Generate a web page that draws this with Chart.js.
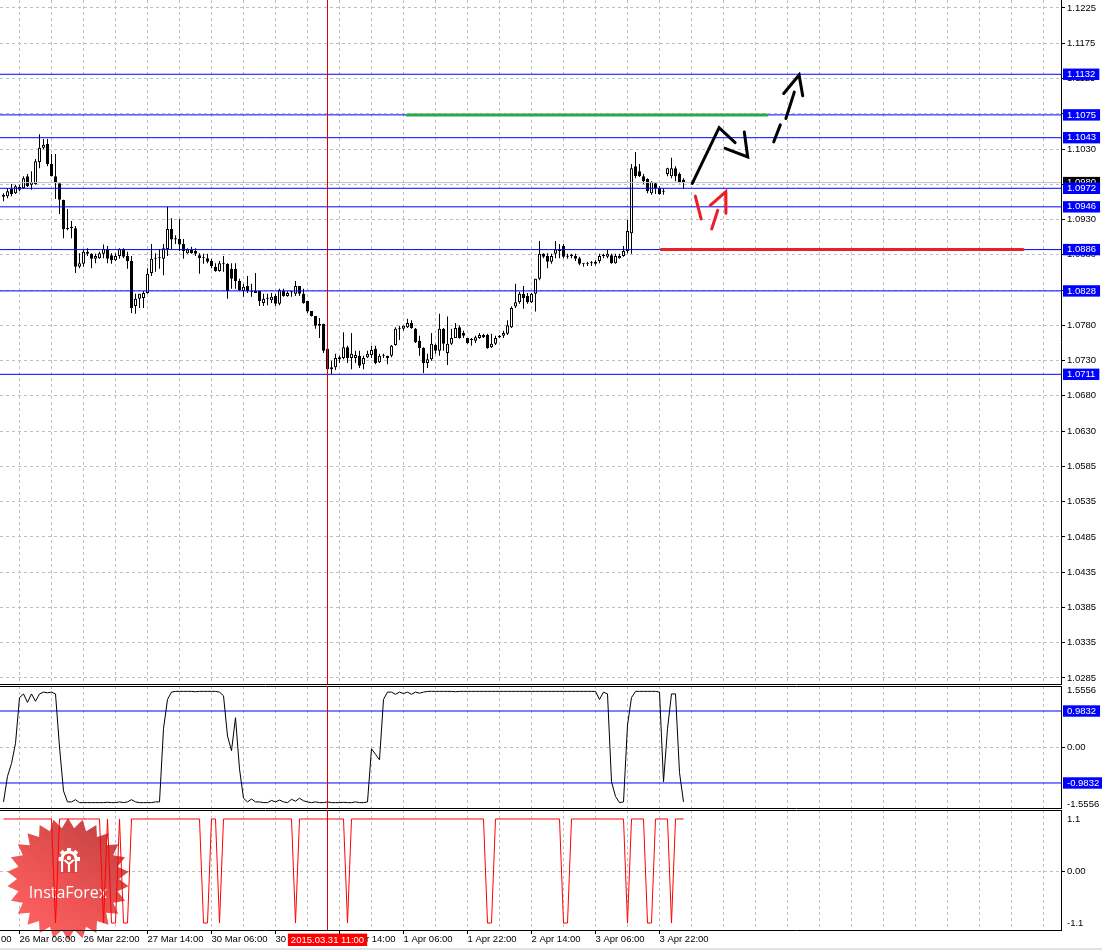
<!DOCTYPE html>
<html>
<head>
<meta charset="utf-8">
<title>EURUSD H1</title>
<script src="https://cdn.jsdelivr.net/npm/chart.js@4.4.1/dist/chart.umd.min.js"></script>
<style>
html,body{margin:0;padding:0;background:#fff;}
#wrap{position:relative;width:1102px;height:950px;overflow:hidden;background:#fff;}
canvas{position:absolute;left:0;display:block;}
#c1{top:0;}
#c2{top:685px;}
#c3{top:809px;}
#foot{position:absolute;left:0;top:948px;width:1102px;height:2px;background:#e2e2e2;}
</style>
</head>
<body>
<div id="wrap">
<canvas id="c1" width="1102" height="685"></canvas>
<canvas id="c2" width="1102" height="124"></canvas>
<canvas id="c3" width="1102" height="141"></canvas>
<div id="foot"></div>
</div>
<script>
// ---------------- DATA ----------------
const OPEN = [
1.0963,1.0961,1.0971,1.0965,1.0974,1.0972,1.0989,1.0977,1.0978,1.1009,
1.1029,1.1034,1.1006,1.0989,1.0979,1.0956,1.0915,1.0918,1.0916,1.0862,
1.0866,1.0883,1.0880,1.0873,1.0874,1.0880,1.0887,1.0878,1.0871,1.0877,
1.0887,1.0877,1.0870,1.0807,1.0817,1.0818,1.0825,1.0853,1.0874,1.0874,
1.0873,1.0887,1.0915,1.0902,1.0901,1.0894,1.0881,1.0886,1.0884,1.0878,
1.0874,1.0874,1.0870,1.0862,1.0856,1.0867,1.0866,1.0859,1.0859,1.0842,
1.0828,1.0835,1.0828,1.0828,1.0828,1.0811,1.0817,1.0815,1.0821,1.0810,
1.0828,1.0821,1.0826,1.0824,1.0835,1.0824,1.0814,1.0800,1.0793,1.0779,
1.0782,1.0747,1.0718,1.0721,1.0735,1.0734,1.0749,1.0734,1.0734,1.0737,
1.0725,1.0735,1.0738,1.0747,1.0728,1.0737,1.0737,1.0737,1.0752,1.0775,
1.0775,1.0777,1.0783,1.0775,1.0758,1.0748,1.0727,1.0732,1.0752,1.0744,
1.0775,1.0741,1.0754,1.0762,1.0777,1.0769,1.0762,1.0759,1.0758,1.0762,
1.0766,1.0766,1.0749,1.0754,1.0763,1.0765,1.0768,1.0777,1.0806,1.0812,
1.0824,1.0821,1.0812,1.0824,1.0845,1.0880,1.0877,1.0869,1.0880,1.0885,
1.0891,1.0877,1.0877,1.0877,1.0874,1.0866,1.0866,1.0867,1.0866,1.0870,
1.0877,1.0876,1.0878,1.0867,1.0874,1.0877,1.0884,1.0909,1.1003,1.0996,
1.0989,1.0985,1.0965,1.0979,1.0972,1.0967,1.0992,1.0989,1.1000,1.0992,
1.0984];
const HIGH = [
1.0965,1.0972,1.0978,1.0977,1.0977,1.0989,1.0992,1.0996,1.1013,1.1048,
1.1041,1.1041,1.1020,1.1020,1.0979,1.0956,1.0943,1.0926,1.0919,1.0881,
1.0887,1.0888,1.0881,1.0880,1.0883,1.0893,1.0891,1.0881,1.0881,1.0888,
1.0888,1.0883,1.0877,1.0824,1.0824,1.0828,1.0860,1.0894,1.0881,1.0887,
1.0894,1.0946,1.0930,1.0906,1.0929,1.0901,1.0888,1.0890,1.0888,1.0881,
1.0880,1.0880,1.0873,1.0867,1.0870,1.0877,1.0867,1.0867,1.0867,1.0845,
1.0838,1.0849,1.0838,1.0853,1.0828,1.0824,1.0824,1.0825,1.0824,1.0831,
1.0831,1.0828,1.0828,1.0842,1.0835,1.0831,1.0814,1.0800,1.0793,1.0790,
1.0782,1.0747,1.0730,1.0740,1.0737,1.0770,1.0751,1.0769,1.0744,1.0744,
1.0737,1.0744,1.0751,1.0751,1.0740,1.0740,1.0737,1.0752,1.0777,1.0779,
1.0780,1.0789,1.0787,1.0776,1.0765,1.0749,1.0740,1.0769,1.0754,1.0796,
1.0776,1.0792,1.0775,1.0783,1.0780,1.0772,1.0762,1.0762,1.0765,1.0769,
1.0768,1.0768,1.0768,1.0765,1.0766,1.0772,1.0787,1.0806,1.0838,1.0827,
1.0835,1.0825,1.0825,1.0845,1.0898,1.0881,1.0881,1.0880,1.0898,1.0894,
1.0894,1.0880,1.0880,1.0880,1.0876,1.0867,1.0869,1.0870,1.0871,1.0880,
1.0880,1.0886,1.0880,1.0880,1.0880,1.0891,1.0928,1.1006,1.1023,1.1006,
1.0992,1.0986,1.0982,1.0981,1.0975,1.0972,1.1001,1.1015,1.1003,1.0994,
1.0986];
const LOW = [
1.0954,1.0958,1.0961,1.0964,1.0968,1.0971,1.0974,1.0970,1.0977,1.1000,
1.1027,1.1003,1.0989,1.0957,1.0936,1.0902,1.0913,1.0902,1.0853,1.0860,
1.0862,1.0877,1.0860,1.0867,1.0873,1.0874,1.0867,1.0866,1.0870,1.0873,
1.0874,1.0859,1.0797,1.0796,1.0804,1.0804,1.0824,1.0849,1.0855,1.0859,
1.0850,1.0877,1.0887,1.0894,1.0884,1.0873,1.0880,1.0880,1.0877,1.0852,
1.0866,1.0867,1.0860,1.0855,1.0855,1.0855,1.0817,1.0831,1.0831,1.0828,
1.0820,1.0825,1.0820,1.0825,1.0807,1.0807,1.0808,1.0811,1.0807,1.0808,
1.0820,1.0820,1.0820,1.0821,1.0821,1.0810,1.0797,1.0792,1.0775,1.0762,
1.0741,1.0709,1.0711,1.0717,1.0727,1.0732,1.0727,1.0718,1.0727,1.0720,
1.0718,1.0734,1.0734,1.0725,1.0727,1.0734,1.0725,1.0735,1.0751,1.0759,
1.0772,1.0776,1.0775,1.0755,1.0737,1.0713,1.0720,1.0730,1.0740,1.0737,
1.0744,1.0724,1.0752,1.0762,1.0761,1.0762,1.0754,1.0751,1.0755,1.0761,
1.0762,1.0747,1.0748,1.0752,1.0762,1.0762,1.0766,1.0776,1.0804,1.0810,
1.0803,1.0810,1.0811,1.0799,1.0843,1.0874,1.0860,1.0866,1.0874,1.0874,
1.0874,1.0873,1.0874,1.0870,1.0864,1.0862,1.0863,1.0863,1.0864,1.0867,
1.0874,1.0874,1.0866,1.0866,1.0873,1.0876,1.0881,1.0880,1.0986,1.0988,
1.0978,1.0965,1.0963,1.0964,1.0963,1.0963,1.0989,1.0986,1.0982,1.0979,
1.0971];
const CLOSE = [
1.0960,1.0968,1.0964,1.0975,1.0970,1.0986,1.0975,1.0981,1.1010,1.1029,
1.1033,1.1006,1.0989,1.0979,1.0956,1.0915,1.0916,1.0916,1.0862,1.0867,
1.0883,1.0880,1.0873,1.0877,1.0881,1.0887,1.0873,1.0871,1.0877,1.0887,
1.0876,1.0870,1.0804,1.0817,1.0824,1.0825,1.0852,1.0873,1.0873,1.0874,
1.0888,1.0915,1.0900,1.0900,1.0893,1.0884,1.0886,1.0881,1.0880,1.0874,
1.0875,1.0869,1.0863,1.0856,1.0867,1.0866,1.0828,1.0845,1.0842,1.0829,
1.0834,1.0828,1.0827,1.0825,1.0814,1.0817,1.0818,1.0820,1.0810,1.0829,
1.0821,1.0825,1.0827,1.0835,1.0824,1.0811,1.0799,1.0793,1.0779,1.0782,
1.0744,1.0718,1.0721,1.0734,1.0732,1.0749,1.0734,1.0740,1.0738,1.0723,
1.0734,1.0740,1.0745,1.0727,1.0737,1.0738,1.0734,1.0751,1.0775,1.0776,
1.0779,1.0783,1.0776,1.0756,1.0748,1.0727,1.0732,1.0754,1.0744,1.0775,
1.0754,1.0754,1.0762,1.0776,1.0762,1.0765,1.0755,1.0760,1.0763,1.0766,
1.0763,1.0748,1.0754,1.0762,1.0765,1.0769,1.0780,1.0804,1.0812,1.0824,
1.0818,1.0812,1.0824,1.0845,1.0880,1.0876,1.0869,1.0877,1.0886,1.0884,
1.0876,1.0876,1.0877,1.0873,1.0866,1.0866,1.0867,1.0868,1.0869,1.0877,
1.0877,1.0880,1.0867,1.0877,1.0877,1.0884,1.0912,1.1000,1.0989,1.0989,
1.0982,1.0968,1.0981,1.0972,1.0964,1.0967,1.1000,1.1000,1.0989,1.0981,
1.0980];

// oscillator (sub-window 1)
const OSC = [
-1.50,-0.80,-0.45,0.10,1.35,1.45,1.22,1.45,1.25,1.45,
1.50,1.48,1.50,1.45,0.00,-1.20,-1.50,-1.50,-1.44,-1.52,
-1.52,-1.52,-1.52,-1.52,-1.52,-1.52,-1.51,-1.52,-1.52,-1.50,
-1.52,-1.50,-1.44,-1.50,-1.52,-1.52,-1.52,-1.52,-1.50,-1.50,
0.50,1.30,1.50,1.52,1.52,1.52,1.52,1.52,1.51,1.52,
1.52,1.52,1.52,1.52,1.50,1.40,0.30,-0.10,0.80,-0.60,
-1.40,-1.50,-1.42,-1.50,-1.50,-1.52,-1.52,-1.46,-1.50,-1.45,
-1.50,-1.52,-1.43,-1.48,-1.40,-1.47,-1.50,-1.52,-1.50,-1.52,
-1.52,-1.50,-1.52,-1.52,-1.52,-1.51,-1.52,-1.52,-1.50,-1.52,
-1.52,-1.50,-0.05,-0.20,-0.35,1.30,1.50,1.50,1.44,1.50,
1.46,1.50,1.44,1.50,1.47,1.50,1.52,1.52,1.52,1.52,
1.52,1.52,1.52,1.51,1.52,1.52,1.52,1.52,1.52,1.52,
1.52,1.52,1.52,1.52,1.52,1.52,1.52,1.52,1.52,1.52,
1.52,1.52,1.52,1.52,1.52,1.52,1.52,1.52,1.52,1.52,
1.52,1.52,1.52,1.52,1.52,1.52,1.52,1.52,1.52,1.30,
1.50,1.45,-0.95,-1.35,-1.52,-1.50,0.60,1.35,1.52,1.52,
1.52,1.52,1.52,1.52,1.50,-0.95,0.50,1.45,1.45,-0.70,
-1.50];

// signal (sub-window 2)
const SIGNAL = [
1.1,1.1,1.1,1.1,1.1,1.1,1.1,1.1,1.1,1.1,
1.1,1.1,1.1,-1.1,1.1,1.1,1.1,1.1,1.1,1.1,
1.1,1.1,1.1,1.1,1.1,-1.1,1.1,-1.1,-1.1,1.1,
-1.1,-1.1,1.1,1.1,1.1,1.1,1.1,1.1,1.1,1.1,
1.1,1.1,1.1,1.1,1.1,1.1,1.1,1.1,1.1,1.1,
-1.1,-1.1,1.1,1.1,-1.1,1.1,1.1,1.1,1.1,1.1,
1.1,1.1,1.1,1.1,1.1,1.1,1.1,1.1,1.1,1.1,
1.1,1.1,1.1,-1.1,1.1,1.1,1.1,1.1,1.1,1.1,
1.1,1.1,1.1,1.1,1.1,1.1,-1.1,1.1,1.1,1.1,
1.1,1.1,1.1,1.1,1.1,1.1,1.1,1.1,1.1,1.1,
1.1,1.1,1.1,1.1,1.1,1.1,1.1,1.1,1.1,1.1,
1.1,1.1,1.1,1.1,1.1,1.1,1.1,1.1,1.1,1.1,
1.1,-1.1,-1.1,1.1,1.1,1.1,1.1,1.1,1.1,1.1,
1.1,1.1,1.1,1.1,1.1,1.1,1.1,1.1,1.1,1.1,
-1.1,-1.1,1.1,1.1,1.1,1.1,1.1,1.1,1.1,1.1,
1.1,1.1,1.1,1.1,1.1,1.1,-1.1,1.1,1.1,1.1,
1.1,-1.1,-1.1,1.1,1.1,1.1,1.1,-1.1,1.1,1.1,
1.1];

const PRICE_TICK_LABELS = ["1.0285","1.0335","1.0385","1.0435","1.0485","1.0535","1.0585","1.0630","1.0680","1.0730",
                           "1.0780","1.0830","1.0880","1.0930","1.0980","1.1030","1.1075","1.1125","1.1175","1.1225"];
const LEVELS = [1.1132, 1.1075, 1.1043, 1.0972, 1.0946, 1.0886, 1.0828, 1.0711];
const BID = 1.0980;
const OSC_TICKS = [1.5556, 0.9832, 0, -0.9832, -1.5556];
const OSC_TICK_LABELS = ["1.5556", "0.9832", "0.00", "-0.9832", "-1.5556"];
const OSC_LEVELS = [0.9832, -0.9832];
const SIG_TICKS = [1.1, 0, -1.1];
const SIG_TICK_LABELS = ["1.1", "0.00", "-1.1"];
const TIME_TICK_BARS = [-12, 4, 20, 36, 52, 68, 84, 100, 116, 132, 148, 164];
const TIME_LABELS = ["25 Mar 14:00","26 Mar 06:00","26 Mar 22:00","27 Mar 14:00","30 Mar 06:00","30 Mar 22:00",
                     "31 Mar 14:00","1 Apr 06:00","1 Apr 22:00","2 Apr 14:00","3 Apr 06:00","3 Apr 22:00"];
const CURSOR_BAR = 81;
const CURSOR_LABEL = "2015.03.31 11:00";

// hand-drawn forecast strokes: [bar, price]
const BLACK_PATH = [[172.2,1.0979],[178.9,1.1057],[182.9,1.1036]];
const BLACK_HEAD = [[180.4,1.1028],[186.05,1.1016],[185.2,1.1051]];
const BLACK_DASH_1 = [[192.55,1.1037],[194.2,1.1061]];
const BLACK_DASH_2 = [[195.6,1.1070],[197.7,1.1107]];
const BLACK_HEAD_2 = [[195.05,1.1105],[198.9,1.1131],[199.8,1.1102]];
const RED_DASH_1 = [[172.95,1.0961],[174.4,1.0929]];
const RED_DASH_2 = [[177.05,1.0915],[178.55,1.0941]];
const RED_HEAD = [[176.7,1.0948],[180.55,1.0967],[180.6,1.0937]];
const GREEN_SEG = [[100.9,1.1075],[190.9,1.1075]];
const RED_SEG = [[164.4,1.0886],[254.9,1.0886]];

// ---------------- AXIS RANGES / STYLE ----------------
const PRICE_MAX = 1.12362, PRICE_MIN = 1.02765;
const X_MIN = -0.875, X_MAX = 264.375;
const OSC_MIN = -1.6667, OSC_MAX = 1.6667;
const SIG_MIN = -1.247, SIG_MAX = 1.29;
const FONT = { family: "'Liberation Sans', Arial, sans-serif", size: 9.5 };
const GRID_COL = '#c0c0c0';
const DASH = [3, 3];
const CLEAR = 'rgba(0,0,0,0)';
const AXIS_W = 41;

const GRID_BARS = [];
for (let b = -12; b <= 260; b += 8) GRID_BARS.push(b);
const BARS = OPEN.map((_, i) => i);

const REG_TICKS = PRICE_TICK_LABELS.map((_, k) => 1.0285 + k * (1.1225 - 1.0285) / (PRICE_TICK_LABELS.length - 1));
const NREG = REG_TICKS.length;
const Y_MAIN_VALUES = [...REG_TICKS, BID, ...LEVELS];
const Y_MAIN_LABELS = [...PRICE_TICK_LABELS, BID.toFixed(4), ...LEVELS.map(v => v.toFixed(4))];

Chart.defaults.animation = false;
Chart.defaults.font.family = FONT.family;
Chart.defaults.font.size = FONT.size;
Chart.defaults.color = '#000';

function fixY(s) { s.width = AXIS_W; s.paddingTop = 0; s.paddingBottom = 0; s.paddingLeft = 0; s.paddingRight = 0; }
function fixX(h) { return s => { s.height = h; s.paddingLeft = 0; s.paddingRight = 0; s.paddingTop = 0; s.paddingBottom = 0; }; }
const pts = arr => arr.map(p => ({ x: p[0], y: p[1] }));
function stroke(arr, color, width, order) {
  return { type: 'line', data: pts(arr), borderColor: color, borderWidth: width, pointRadius: 0,
           fill: false, tension: 0, borderCapStyle: 'round', borderJoinStyle: 'miter', order };
}
function hline(v, color, width, order) {
  return { type: 'line', data: [{ x: X_MIN, y: v }, { x: X_MAX, y: v }], borderColor: color,
           borderWidth: width, pointRadius: 0, fill: false, tension: 0, order };
}
function vline(x, lo, hi, color) {
  return { type: 'line', data: [{ x, y: lo }, { x, y: hi }], borderColor: color, borderWidth: 1,
           pointRadius: 0, fill: false, order: 0 };
}
function gridX() {
  return {
    type: 'linear', min: X_MIN, max: X_MAX, offset: false, display: true,
    afterBuildTicks: s => { s.ticks = GRID_BARS.map(v => ({ value: v })); },
    afterFit: fixX(0),
    ticks: { display: false },
    grid: { color: GRID_COL, drawTicks: false, offset: false, lineWidth: 1 },
    border: { display: true, color: '#000', width: 1, dash: DASH }
  };
}
function topBorder() {
  return { type: 'linear', position: 'top', min: X_MIN, max: X_MAX, display: true, offset: false,
           afterFit: fixX(0), ticks: { display: false }, grid: { display: false, drawTicks: false },
           border: { display: true, color: '#000', width: 1 } };
}
function sideAxis(min, max, values, labels, boxed, gridded) {
  return {
    type: 'linear', position: 'right', min, max, bounds: 'data', display: true,
    afterBuildTicks: s => { s.ticks = values.map(v => ({ value: v })); },
    afterFit: fixY,
    grid: { color: c => gridded(c.index) ? GRID_COL : CLEAR,
            tickColor: c => gridded(c.index) ? '#000' : CLEAR,
            tickLength: 4, drawTicks: true, lineWidth: 1 },
    border: { display: true, color: '#000', width: 1, dash: DASH },
    ticks: { autoSkip: false, padding: 2, font: FONT,
             color: c => boxed(c.index) ? '#fff' : '#000',
             showLabelBackdrop: c => !!boxed(c.index),
             backdropColor: c => boxed(c.index) || CLEAR,
             backdropPadding: { left: 4, right: 4, top: 0, bottom: 0 },
             callback: (v, i) => labels[i] }
  };
}
const baseOpts = (padding) => ({
  responsive: false, devicePixelRatio: 1, animation: false, events: [],
  layout: { padding },
  plugins: { legend: { display: false }, tooltip: { enabled: false } }
});

// ---------------- MAIN PRICE CHART ----------------
const bull = BARS.map(i => CLOSE[i] >= OPEN[i]);
const mainBoxed = i => (i < NREG ? false : (i === NREG ? '#000000' : '#0000ff'));
const mainGridded = i => i < NREG;

const mainDatasets = [
  { type: 'bar', data: BARS.map(i => ({ x: i, y: [LOW[i], HIGH[i]] })), backgroundColor: '#000',
    borderWidth: 0, barThickness: 1, grouped: false, inflateAmount: 0, order: 20 },
  { type: 'bar', data: BARS.map(i => ({ x: i, y: [OPEN[i], CLOSE[i]] })),
    backgroundColor: bull.map(b => b ? '#ffffff' : '#000000'), borderColor: '#000', borderWidth: 1,
    borderSkipped: false, barThickness: 3, minBarLength: 1, grouped: false, inflateAmount: 0, order: 19 },
  hline(BID, '#c0c0c0', 1, 18),
  ...LEVELS.map(v => hline(v, '#0000ff', 1, 10)),
  stroke(GREEN_SEG, '#2aa84a', 3, 5),
  stroke(RED_SEG, '#e8202a', 3, 5),
  stroke(BLACK_PATH, '#000', 3, 3),
  stroke(BLACK_HEAD, '#000', 3, 3),
  stroke(BLACK_DASH_1, '#000', 3, 3),
  stroke(BLACK_DASH_2, '#000', 3, 3),
  stroke(BLACK_HEAD_2, '#000', 3, 3),
  stroke(RED_DASH_1, '#ee1c25', 3, 3),
  stroke(RED_DASH_2, '#ee1c25', 3, 3),
  stroke(RED_HEAD, '#ee1c25', 3, 3),
  vline(CURSOR_BAR, PRICE_MIN, PRICE_MAX, '#e00000')
];

new Chart(document.getElementById('c1'), {
  type: 'bar',
  data: { datasets: mainDatasets },
  options: Object.assign(baseOpts({ left: 0, right: 0, top: 0, bottom: 1 }), {
    indexAxis: 'x',
    scales: {
      x: gridX(),
      y: sideAxis(PRICE_MIN, PRICE_MAX, Y_MAIN_VALUES, Y_MAIN_LABELS, mainBoxed, mainGridded)
    }
  })
});

// ---------------- OSCILLATOR WINDOW ----------------
const oscBoxed = i => (i === 1 || i === 3) ? '#0000ff' : false;
const oscGridded = i => i === 2;
new Chart(document.getElementById('c2'), {
  type: 'line',
  data: { datasets: [
    { data: BARS.map(i => ({ x: i, y: OSC[i] })), borderColor: '#000', borderWidth: 1, pointRadius: 0, tension: 0, fill: false, order: 5 },
    ...OSC_LEVELS.map(v => hline(v, '#0000ff', 1, 6)),
    vline(CURSOR_BAR, OSC_MIN, OSC_MAX, '#e00000')
  ] },
  options: Object.assign(baseOpts({ left: 0, right: 0, top: 1, bottom: 1 }), {
    scales: {
      x: gridX(),
      xt: topBorder(),
      y: sideAxis(OSC_MIN, OSC_MAX, OSC_TICKS, OSC_TICK_LABELS, oscBoxed, oscGridded)
    }
  })
});

// ---------------- SIGNAL WINDOW + TIME AXIS ----------------
const logoPlugin = {
  id: 'instaLogo',
  beforeDatasetsDraw(chart) {
    const ctx = chart.ctx;
    const cx = 68, cy = 70, R = 61, r = 51, n = 26;
    ctx.save();
    ctx.beginPath();
    for (let k = 0; k < 2 * n; k++) {
      const a = -Math.PI / 2 + k * Math.PI / n;
      const rad = k % 2 === 0 ? R : r;
      const px = cx + rad * Math.cos(a), py = cy + rad * Math.sin(a);
      if (k === 0) ctx.moveTo(px, py); else ctx.lineTo(px, py);
    }
    ctx.closePath();
    const g = ctx.createLinearGradient(cx + 45, cy - 55, cx - 45, cy + 55);
    g.addColorStop(0, 'rgba(190,52,52,0.93)');
    g.addColorStop(0.55, 'rgba(235,70,70,0.93)');
    g.addColorStop(1, 'rgba(255,88,88,0.93)');
    ctx.fillStyle = g;
    ctx.fill();
    // gear icon
    const gx = 69, gy = 50;
    ctx.fillStyle = '#fff';
    for (let t = 0; t < 8; t++) {
      ctx.save();
      ctx.translate(gx, gy);
      ctx.rotate(t * Math.PI / 4);
      ctx.fillRect(-2, -11, 4, 4);
      ctx.restore();
    }
    ctx.beginPath(); ctx.arc(gx, gy, 8.5, 0, Math.PI * 2); ctx.fill();
    ctx.fillStyle = 'rgba(225,64,64,1)';
    ctx.beginPath(); ctx.arc(gx, gy, 5.5, 0, Math.PI * 2); ctx.fill();
    ctx.fillRect(gx - 9, gy + 2, 18, 12);
    ctx.fillStyle = '#fff';
    ctx.beginPath(); ctx.arc(gx, gy - 1, 2.2, 0, Math.PI * 2); ctx.fill();
    ctx.strokeStyle = '#fff'; ctx.lineWidth = 2.2;
    ctx.beginPath(); ctx.moveTo(gx - 4.5, gy + 1); ctx.lineTo(gx, gy + 5); ctx.lineTo(gx + 4.5, gy + 1);
    ctx.moveTo(gx, gy + 5); ctx.lineTo(gx, gy + 13); ctx.stroke();
    ctx.beginPath(); ctx.moveTo(gx - 7, gy + 2); ctx.lineTo(gx - 7, gy + 13);
    ctx.moveTo(gx + 7, gy + 2); ctx.lineTo(gx + 7, gy + 13); ctx.stroke();
    // brand text
    ctx.fillStyle = '#fff';
    ctx.font = "16px 'Open Sans', 'Liberation Sans', sans-serif";
    ctx.textAlign = 'center';
    ctx.textBaseline = 'middle';
    ctx.fillText('InstaForex', cx, 84);
    ctx.restore();
  }
};

const sigBoxed = () => false;
const sigGridded = i => i === 1;
new Chart(document.getElementById('c3'), {
  type: 'line',
  data: { datasets: [
    { data: BARS.map(i => ({ x: i, y: SIGNAL[i] })), borderColor: '#ff0000', borderWidth: 1, pointRadius: 0, tension: 0, fill: false, order: 5 },
    vline(CURSOR_BAR, SIG_MIN, SIG_MAX, '#e00000')
  ] },
  plugins: [logoPlugin],
  options: Object.assign(baseOpts({ left: 0, right: 0, top: 1, bottom: 0 }), {
    scales: {
      x: {
        type: 'linear', position: 'bottom', weight: 1, min: X_MIN, max: X_MAX, offset: false, display: true,
        afterBuildTicks: s => { s.ticks = GRID_BARS.map(v => ({ value: v })); },
        afterFit: fixX(20),
        ticks: { display: true, autoSkip: false, maxRotation: 0, minRotation: 0, align: 'start', padding: 0,
                 font: FONT, color: '#000', z: 1,
                 callback: v => { const k = TIME_TICK_BARS.indexOf(v); return k >= 0 ? TIME_LABELS[k] : ''; } },
        grid: { color: GRID_COL, drawTicks: true, tickLength: 4, offset: false, lineWidth: 1,
                tickColor: c => (c.tick && TIME_TICK_BARS.includes(c.tick.value)) ? '#000' : CLEAR },
        border: { display: true, color: '#000', width: 1, dash: DASH, z: 1 }
      },
      xc: {
        type: 'linear', position: 'bottom', weight: 0, min: X_MIN, max: X_MAX, offset: false, display: true,
        afterBuildTicks: s => { s.ticks = [{ value: CURSOR_BAR }]; },
        afterFit: fixX(0),
        ticks: { autoSkip: false, maxRotation: 0, minRotation: 0, align: 'center', padding: -16, font: FONT,
                 mirror: true,
                 color: '#fff', showLabelBackdrop: true, backdropColor: '#ff0000',
                 backdropPadding: { left: 3, right: 3, top: 1, bottom: 0 }, z: 2,
                 callback: () => CURSOR_LABEL },
        grid: { display: false, drawTicks: false },
        border: { display: false }
      },
      xt: topBorder(),
      y: sideAxis(SIG_MIN, SIG_MAX, SIG_TICKS, SIG_TICK_LABELS, sigBoxed, sigGridded)
    }
  })
});
</script>
</body>
</html>
